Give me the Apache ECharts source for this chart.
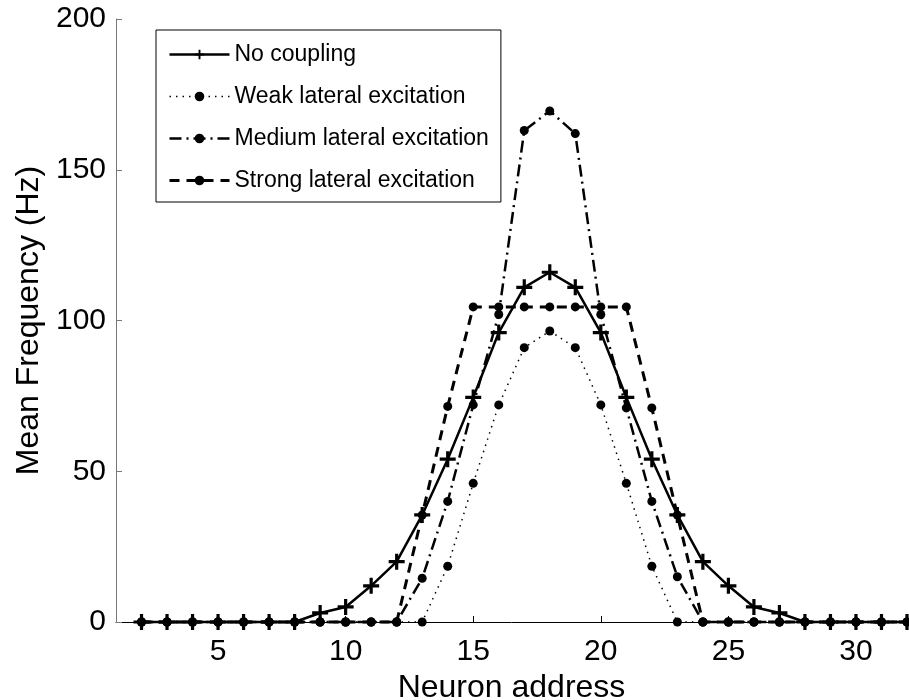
<!DOCTYPE html>
<html>
<head>
<meta charset="utf-8">
<script src="https://cdn.jsdelivr.net/npm/echarts@6/dist/echarts.min.js"></script>
<style>
  html, body { margin: 0; padding: 0; background: #fff; }
  #chart { width: 909px; height: 700px; }
</style>
</head>
<body>
<div id="chart"></div>
<script>
// neuron addresses on the x axis
const addresses = [2, 3, 4, 5, 6, 7, 8, 9, 10, 11, 12, 13, 14, 15, 16, 17, 18, 19, 20, 21, 22, 23, 24, 25, 26, 27, 28, 29, 30, 31, 32]

// mean frequency (Hz) per address
const noCoupling = [0, 0, 0, 0, 0, 0, 0, 3, 5, 12, 20, 35.5, 54, 74.5, 96, 111, 116, 111, 96, 74.5, 54, 35.5, 20, 12, 5, 3, 0, 0, 0, 0, 0]
const weakExc    = [0, 0, 0, 0, 0, 0, 0, 0, 0, 0, 0, 0, 18.5, 46, 72, 91, 96.5, 91, 72, 46, 18.5, 0, 0, 0, 0, 0, 0, 0, 0, 0, 0]
const mediumExc  = [0, 0, 0, 0, 0, 0, 0, 0, 0, 0, 0, 14.5, 40, 72, 102, 163, 169.5, 162, 102, 71, 40, 15, 0, 0, 0, 0, 0, 0, 0, 0, 0]
const strongExc  = [0, 0, 0, 0, 0, 0, 0, 0, 0, 0, 0, 35.5, 71.5, 104.5, 104.5, 104.5, 104.5, 104.5, 104.5, 104.5, 71, 35.5, 0, 0, 0, 0, 0, 0, 0, 0, 0]

const xTicks = [5, 10, 15, 20, 25, 30]
const seriesNames = ['No coupling', 'Weak lateral excitation', 'Medium lateral excitation', 'Strong lateral excitation']

const FONT = 'Liberation Sans, Arial, sans-serif'
const plus = 'path://M4,0H6V4H10V6H6V10H4V6H0V4H4Z'

// line looks, shared by the plot and the legend
const looks = [
  { symbol: plus, size: 16, width: 2.5, type: 'solid' },
  { symbol: 'circle', size: 9, width: 1.5, type: [1.5, 5] },
  { symbol: 'circle', size: 9, width: 2.5, type: [12, 5, 2, 5] },
  { symbol: 'circle', size: 9, width: 3, type: [10, 7] }
]
const values = [noCoupling, weakExc, mediumExc, strongExc]

const pairs = (vals) => addresses.map((x, i) => [x, vals[i]])

const chart = echarts.init(document.getElementById('chart'))
chart.setOption({
  animation: false,
  backgroundColor: '#fff',
  grid: { left: 116, right: 2, top: 19, bottom: 78, outerBoundsMode: 'none' },
  legend: {
    orient: 'vertical',
    left: 156,
    top: 30,
    padding: [13, 12, 10, 12],
    itemGap: 19,
    itemWidth: 60,
    itemHeight: 12,
    borderColor: '#000',
    borderWidth: 1,
    backgroundColor: '#fff',
    textStyle: { fontSize: 23, fontFamily: FONT, color: '#000' },
    data: seriesNames.map((name, i) => ({
      name: name,
      lineStyle: { width: looks[i].width, type: looks[i].type, color: '#000' }
    }))
  },
  xAxis: {
    type: 'value',
    min: 1,
    max: 32,
    name: 'Neuron address',
    nameLocation: 'middle',
    nameGap: 45,
    nameTextStyle: { fontSize: 32, fontFamily: FONT, color: '#000' },
    axisLine: { lineStyle: { color: '#000', width: 1 } },
    axisTick: { inside: true, length: 6, customValues: xTicks, lineStyle: { color: '#000' } },
    axisLabel: { customValues: xTicks, fontSize: 30, fontFamily: FONT, color: '#000', margin: 15 },
    splitLine: { show: false }
  },
  yAxis: {
    type: 'value',
    min: 0,
    max: 200,
    interval: 50,
    name: 'Mean Frequency (Hz)',
    nameLocation: 'middle',
    nameGap: 70,
    nameTextStyle: { fontSize: 32, fontFamily: FONT, color: '#000' },
    axisLine: { show: true, lineStyle: { color: '#777', width: 1 } },
    axisTick: { show: true, inside: true, length: 6, lineStyle: { color: '#777' } },
    axisLabel: { fontSize: 30, fontFamily: FONT, color: '#000', margin: 10 },
    splitLine: { show: false }
  },
  series: seriesNames.map((name, i) => ({
    name: name,
    type: 'line',
    data: pairs(values[i]),
    symbol: looks[i].symbol,
    symbolSize: looks[i].size,
    clip: false,
    lineStyle: { color: '#000', width: looks[i].width, type: looks[i].type },
    itemStyle: { color: '#000' }
  }))
})
</script>
</body>
</html>
